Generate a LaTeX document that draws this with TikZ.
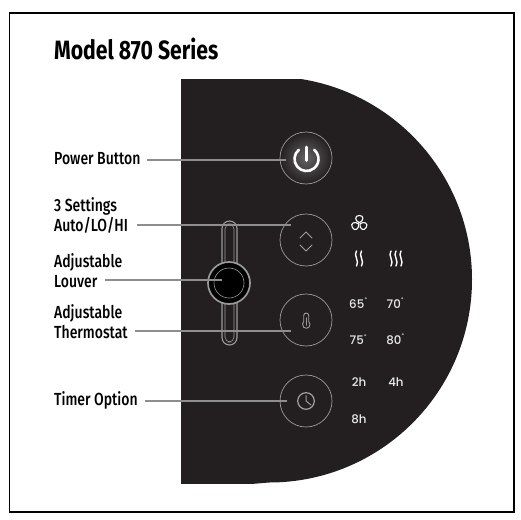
\documentclass[tikz,border=0pt]{standalone}
\usepackage{fontspec}
\setmainfont{Liberation Sans}
\newfontfamily\condfont[FakeStretch=0.80]{Fira Sans}
\newfontfamily\condmed[FakeStretch=0.80,UprightFont=* Medium]{Fira Sans}
\newfontfamily\dispfont[UprightFont=* Medium]{Poppins}
\definecolor{panel}{HTML}{231F20}
\definecolor{leader}{HTML}{8E8E8E}
\definecolor{ringc}{HTML}{9A9A9A}
\tikzset{
  x=1pt,y=-1pt,
  labeltext/.style={anchor=west,inner sep=0pt,align=left,font=\condmed\fontsize{17.5}{20}\selectfont,text=black},
  leaderline/.style={draw=leader,line width=2pt},
  ringbtn/.style={circle,draw=ringc,line width=0.7pt,minimum size=52pt,inner sep=0pt},
  readout/.style={inner sep=0pt,font=\dispfont\fontsize{11.8}{12}\selectfont,text=white!92!black},
  degmark/.style={},
  iconline/.style={draw=white,line width=1.4pt,line cap=round,line join=round},
  dimicon/.style={draw=white!62!black,line width=1pt,line cap=round,line join=round},
}
\newcommand{\wavy}[2]{\draw[iconline] (#1,#2-7.5) .. controls (#1-3.6,#2-3.5) and (#1+3.6,#2+3) .. (#1,#2+7.5);}
\newcommand{\degsign}{\raisebox{3.5pt}{\fontsize{8}{8}\selectfont\kern0.5pt˚}}
\begin{document}
\begin{tikzpicture}
\useasboundingbox (0,0) rectangle (521,519);
\fill[white] (0,0) rectangle (521,519);
\draw[black,line width=1.8pt] (9.5,13) rectangle (514,512);
% panel
\begin{scope}
\clip (181,79) rectangle (480,483);
\fill[panel] (181,70) -- (269,76.5) arc[start angle=-90,delta angle=180,x radius=203,y radius=203] -- (181,490) -- cycle;
\end{scope}
% title
\node[anchor=west,inner sep=0pt,font=\condfont\bfseries\fontsize{26.5}{28}\selectfont] (title) at (54,48.5) {Model 870 Series};
% louver slot
\draw[ringc,line width=1.1pt,rounded corners=7.5pt] (222,221) rectangle (237,345);
\draw[ringc,line width=0.6pt,rounded corners=5pt] (225,224) rectangle (234,342);
% power glow
\shade[inner color=white!30!panel,outer color=panel] (306,158) circle (26);
% buttons
\node[ringbtn] (power) at (306,158) {};
\node[ringbtn] (mode) at (306,240) {};
\node[ringbtn] (thermo) at (306,320) {};
\node[ringbtn] (timer) at (306,401) {};
% knob
\node[circle,fill=black,draw=ringc,line width=1.7pt,minimum size=42pt,inner sep=0pt] (knob) at (229,283) {};
\node[circle,draw=ringc,line width=0.6pt,minimum size=30pt,inner sep=0pt] (knobin) at (229,283) {};
% labels
\node[labeltext] (lpower) at (54,159) {Power Button};
\node[labeltext] (lmode) at (54,215) {3 Settings\\Auto/LO/HI};
\node[labeltext] (llouver) at (54,270.5) {Adjustable\\Louver};
\node[labeltext] (lthermo) at (54,321.5) {Adjustable\\Thermostat};
\node[labeltext] (ltimer) at (54,400) {Timer Option};
% leaders
\coordinate (epower) at (286,159.5);
\coordinate (emode) at (291,225);
\coordinate (elouver) at (222,280);
\coordinate (ethermo) at (291,330.5);
\coordinate (etimer) at (287,400.5);
\draw[leaderline] (147,159.5) -- (epower);
\draw[leaderline] (137,225) -- (emode);
\draw[leaderline] (105,280) -- (elouver);
\draw[leaderline] (135,330.5) -- (ethermo);
\draw[leaderline] (145,400.5) -- (etimer);
% power icon
\draw[white,line width=2.6pt,line cap=round] (306.5,147) -- (306.5,160.5);
\draw[white,line width=2.6pt,line cap=round] (298.8,149.8) arc[start angle=-130,delta angle=-280,radius=12];
% chevrons
\draw[dimicon] (300,238) -- (306,232) -- (312,238);
\draw[dimicon] (300,245) -- (306,251) -- (312,245);
% thermometer
\draw[dimicon,line width=0.9pt] (303.7,321.6) -- (303.7,315.5) arc[start angle=180,end angle=360,radius=2.5] -- (308.7,321.6) arc[start angle=-49,end angle=229,radius=3.8] -- cycle;
\draw[dimicon,line width=1.1pt] (306.2,318) -- (306.2,325);
% clock
\draw[dimicon,line width=1.2pt] (306,401) circle (8.3);
\draw[dimicon,line width=1pt] (306,395.5) -- (306,401) -- (311,405);
% fan
\begin{scope}[shift={(359.3,223.5)}]
\foreach \a in {90,-30,210}{
  \draw[iconline,rotate=\a,line width=1.1pt] (0.8,0) .. controls (2.5,-4.6) and (8.2,-5) .. (8,0) .. controls (8.2,5) and (2.5,4.6) .. (0.8,0);
}
\end{scope}
% waves
\wavy{356.5}{258.5}\wavy{361.5}{258.5}
\wavy{391}{258.5}\wavy{396}{258.5}\wavy{401}{258.5}
% readouts
\node[readout] (t65) at (358,303) {65\degsign};
\node[readout] (t70) at (395,303) {70\degsign};
\node[readout] (t75) at (358,339.5) {75\degsign};
\node[readout] (t80) at (395,339.5) {80\degsign};
\node[readout] (h2) at (359,382) {2h};
\node[readout] (h4) at (396,382) {4h};
\node[readout] (h8) at (359,419) {8h};
\end{tikzpicture}
\end{document}
